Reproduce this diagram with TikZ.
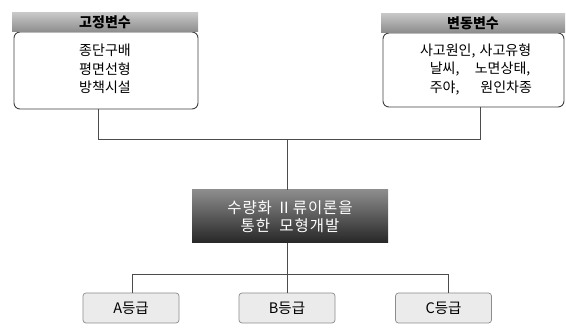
\documentclass[tikz,border=0pt]{standalone}
\usepackage{fontspec}
\setmainfont{Noto Sans CJK KR}
\newfontfamily\midfont{Noto Sans CJK KR}[LetterSpace=6]
\begin{document}
\begin{tikzpicture}[x=1pt,y=-1pt,
  hdr/.style={rectangle,inner sep=0pt,minimum height=19pt,font=\fontsize{14}{16}\selectfont\bfseries,
    top color=black!22,bottom color=black!45,text=black},
  body/.style={rectangle,rounded corners=6pt,draw=black!75,line width=0.9pt,fill=white,inner sep=0pt},
  bodytext/.style={inner sep=0pt,font=\fontsize{14}{18.5}\selectfont},
  center/.style={rectangle,inner sep=0pt,minimum width=196pt,minimum height=53pt,
    top color=black!45,bottom color=black!85,text=white,align=center,
    font=\midfont\fontsize{15.5}{18.5}\selectfont},
  grade/.style={rectangle,rounded corners=3pt,draw=black!45,line width=0.7pt,fill=black!8,
    inner sep=0pt,minimum width=96pt,minimum height=30pt,font=\fontsize{14.5}{16}\selectfont},
  wire/.style={draw=black!70,line width=0.8pt}]
\useasboundingbox (0,0) rectangle (566,331);
% left group
\node[body,minimum width=184pt,minimum height=77pt] (lbody) at (106,70.5) {};
\node[hdr,minimum width=186pt] (lhdr) at (105,22.5) {고정변수};
\node[bodytext,align=center] (ltext) at (105,69) {종단구배\\평면선형\\방책시설};
% right group
\node[body,minimum width=181pt,minimum height=74pt] (rbody) at (473.5,70) {};
\node[hdr,minimum width=184pt] (rhdr) at (473,23) {변동변수};
\node[bodytext,align=left] (rtext) at (476,69)
  {사고원인,\hspace{0.3em}사고유형\\\hspace{0.7em}날씨,\hspace{1.1em}노면상태,\\\hspace{0.7em}주야,\hspace{1.5em}원인차종};
% center
\node[center] (mid) at (290,216.5) {수량화 Ⅱ류이론을\\통한\hspace{0.6em}모형개발};
% grades
\node[grade] (ga) at (131,308) {A등급};
\node[grade] (gb) at (287,308) {B등급};
\node[grade] (gc) at (443.5,308) {C등급};
% junctions
\coordinate (j1) at (287,139);
\coordinate (j2) at (287,274);
\coordinate (lo) at (98,109);
\coordinate (ro) at (480,107);
% wires
\draw[wire] (lo) |- (j1);
\draw[wire] (ro) |- (j1);
\draw[wire] (j1) -- (mid.north -| j1);
\draw[wire] (mid.south -| j2) -- (j2);
\draw[wire] (ga.north -| 132,0) |- (j2);
\draw[wire] (gc.north -| 448,0) |- (j2);
\draw[wire] (j2) -- (gb.north);
\end{tikzpicture}
\end{document}
